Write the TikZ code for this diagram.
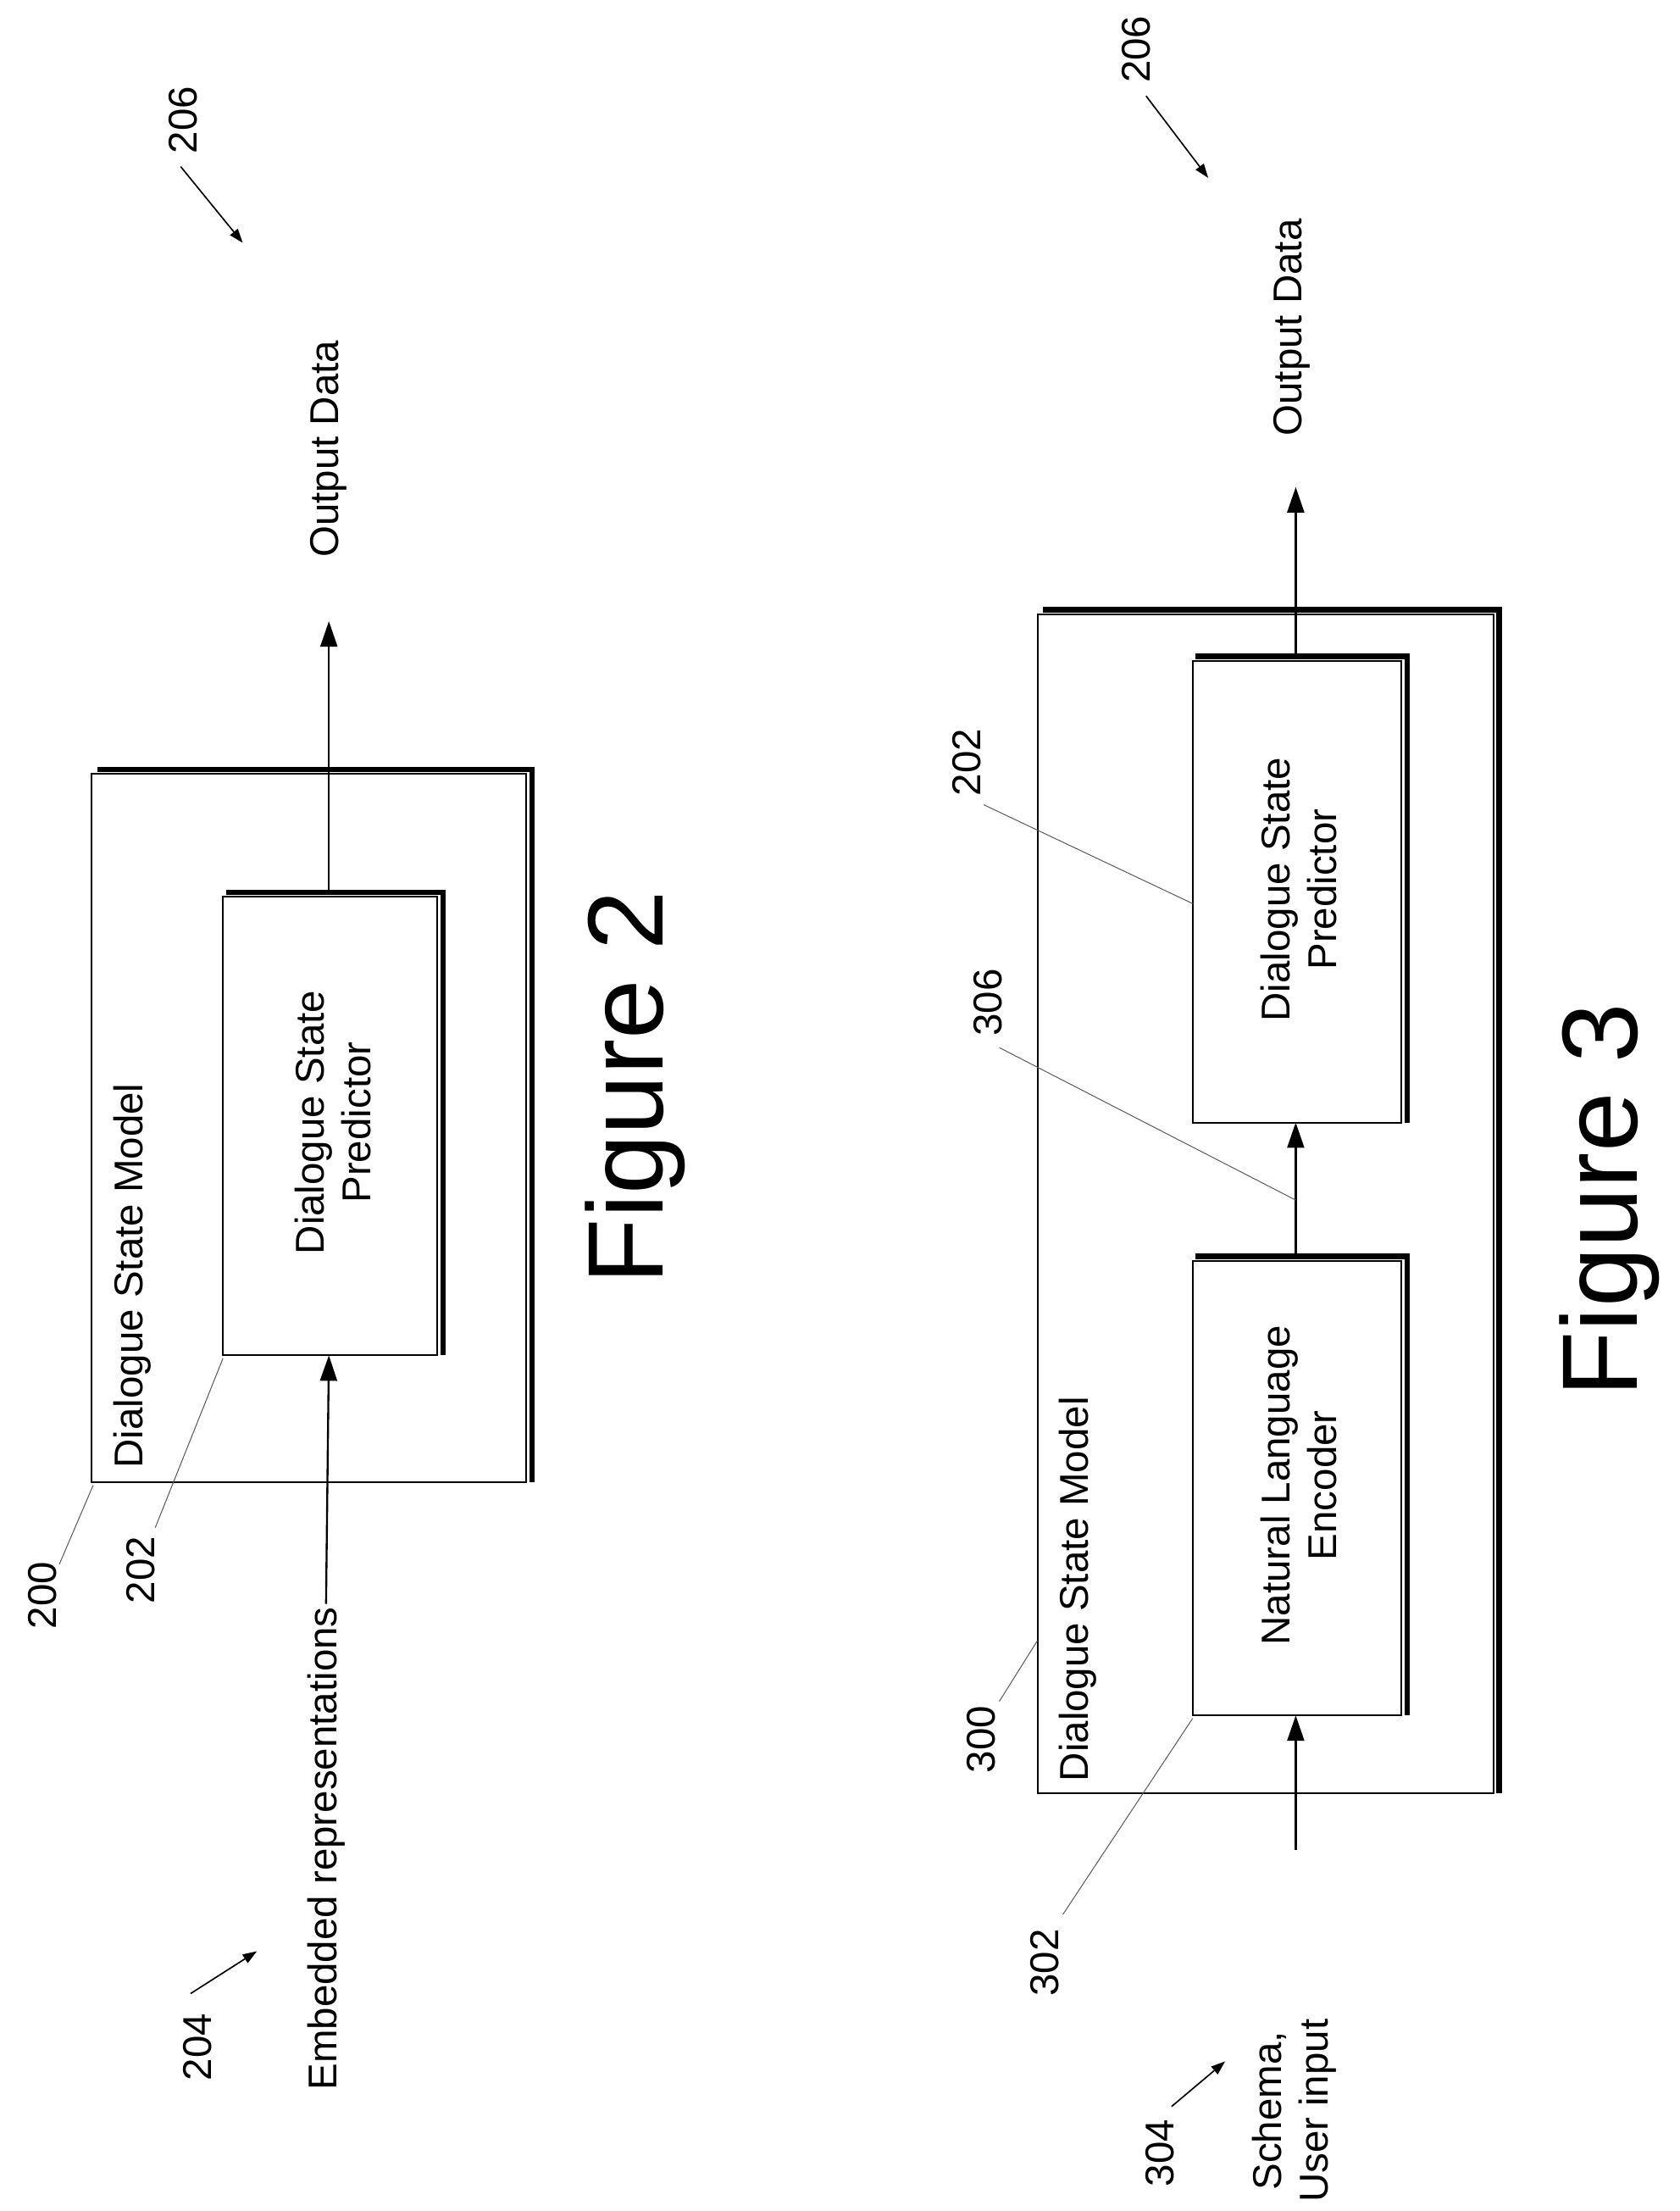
\documentclass[tikz,border=0pt]{standalone}
\usepackage{fontspec}
\setmainfont{Liberation Sans}
\usetikzlibrary{arrows.meta}
\begin{document}
\begin{tikzpicture}[x=1pt,y=-1pt,
 box/.style={draw,line width=1.2pt},
 shad/.style={line width=4pt},
 arr/.style={line width=1.4pt,-{Triangle[length=18pt,width=12pt]}},
 lead/.style={line width=0.6pt,gray!70!black},
 lab/.style={rotate=90,font=\fontsize{28.5}{33}\selectfont,align=center},
 fig/.style={rotate=90,font=\fontsize{76}{80}\selectfont}]
\useasboundingbox (0,0) rectangle (1190,1566);
% ---------- Figure 2
\draw[box] (65,548) rectangle (373,1050);
\draw[shad] (69,545) -- (377,545) -- (377,1050);
\draw[box] (158,635) rectangle (310,960);
\draw[shad] (160,632) -- (314,632) -- (314,960);
\coordinate (p2b) at (233,960); \coordinate (p2t) at (233,632);
\node[lab,anchor=east,inner sep=2pt] (emb) at (231,1136) {Embedded representations};
\node[lab] (out2) at (233,318) {Output Data};
\draw[arr] (emb.east) -- (p2b);
\draw[arr] (p2t) -- (233,440);
\node[lab,anchor=north west,inner sep=0] (dsm2) at (80,1040) {Dialogue State Model};
\node[lab] (dsp2) at (236,795) {Dialogue State\\Predictor};
\node[fig] (f2) at (450,770) {Figure 2};
\node[lab] (l200) at (30,1130) {200};
\draw[lead] (42,1108) -- (66,1052);
\node[lab] (l202) at (100,1112) {202};
\draw[lead] (110,1082) -- (158,962);
\node[lab] (l204) at (140,1450) {204};
\draw[line width=1pt,-{Triangle[length=10pt,width=7pt]}] (135,1412) -- (182,1382);
\node[lab] (l206a) at (130,85) {206};
\draw[line width=1pt,-{Triangle[length=10pt,width=7pt]}] (128,118) -- (172,172);
% ---------- Figure 3
\draw[box] (735,435) rectangle (1058,1270);
\draw[shad] (739,432) -- (1062,432) -- (1062,1270);
\draw[box] (845,893) rectangle (993,1215);
\draw[shad] (847,890) -- (997,890) -- (997,1215);
\draw[box] (845,468) rectangle (993,795);
\draw[shad] (847,465) -- (997,465) -- (997,795);
\node[lab] (sch) at (917,1495) {Schema,\\User input};
\draw[arr] (918,1310) -- (918,1215);
\draw[arr] (918,890) -- (918,795);
\draw[arr] (918,465) -- (918,345);
\node[lab] (out3) at (915,232) {Output Data};
\node[lab,anchor=north west,inner sep=0] (dsm3) at (750,1262) {Dialogue State Model};
\node[lab] (nle) at (920,1052) {Natural Language\\Encoder};
\node[lab] (dsp3) at (920,630) {Dialogue State\\Predictor};
\node[fig] (f3) at (1140,850) {Figure 3};
\node[lab] (l300) at (695,1232) {300};
\draw[lead] (708,1205) -- (735,1162);
\node[lab] (l302) at (740,1390) {302};
\draw[lead] (753,1356) -- (845,1217);
\node[lab] (l306) at (700,710) {306};
\draw[lead] (708,742) -- (918,850);
\node[lab] (l202b) at (685,540) {202};
\draw[lead] (697,570) -- (845,640);
\node[lab] (l304) at (822,1525) {304};
\draw[line width=1pt,-{Triangle[length=10pt,width=7pt]}] (830,1492) -- (868,1460);
\node[lab] (l206b) at (805,35) {206};
\draw[line width=1pt,-{Triangle[length=10pt,width=7pt]}] (812,68) -- (856,126);
\end{tikzpicture}
\end{document}
